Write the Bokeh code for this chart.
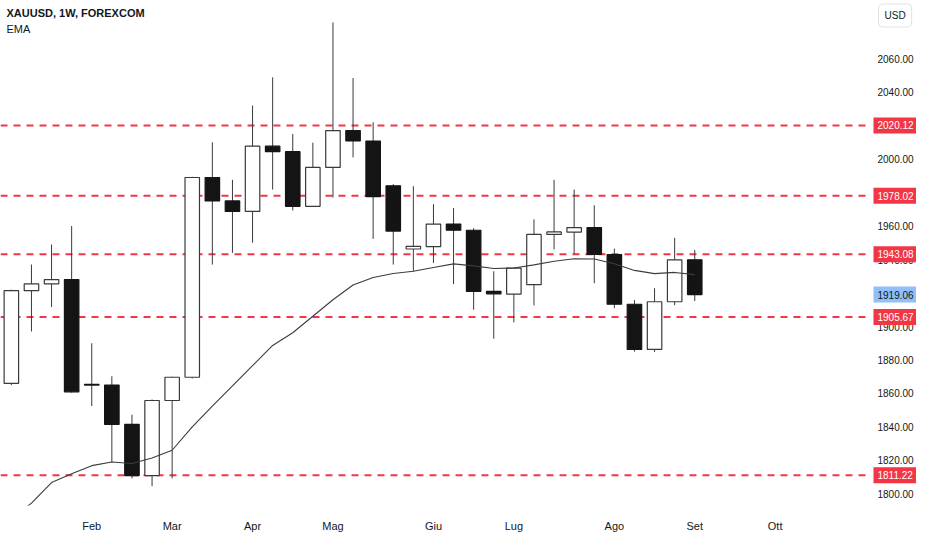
from bokeh.plotting import figure
from bokeh.models import ColumnDataSource, Span, Label, FixedTicker, NumeralTickFormatter, Range1d, BoxAnnotation
from bokeh.embed import file_html
from bokeh.resources import INLINE

# ---- data (weekly XAUUSD) ----
dates = ["2023-01-09", "2023-01-16", "2023-01-23", "2023-01-30", "2023-02-06", "2023-02-13",
         "2023-02-20", "2023-02-27", "2023-03-06", "2023-03-13", "2023-03-20", "2023-03-27",
         "2023-04-03", "2023-04-10", "2023-04-17", "2023-04-24", "2023-05-01", "2023-05-08",
         "2023-05-15", "2023-05-22", "2023-05-29", "2023-06-05", "2023-06-12", "2023-06-19",
         "2023-06-26", "2023-07-03", "2023-07-10", "2023-07-17", "2023-07-24", "2023-07-31",
         "2023-08-07", "2023-08-14", "2023-08-21", "2023-08-28", "2023-09-04"]
opens = [1866.0, 1921.4, 1925.5, 1928.0, 1865.5, 1865.0, 1841.5, 1811.0, 1855.8, 1869.7,
         1989.0, 1975.0, 1968.7, 2007.7, 2004.4, 1971.8, 1995.0, 2017.0, 2010.8, 1984.0,
         1946.3, 1947.7, 1961.2, 1957.5, 1921.0, 1919.3, 1925.0, 1955.0, 1956.4, 1959.1,
         1943.0, 1913.3, 1886.3, 1914.8, 1939.8]
highs = [1922.0, 1937.0, 1949.0, 1960.0, 1890.0, 1870.3, 1847.3, 1856.4, 1870.0, 1989.4,
         2010.0, 1987.6, 2032.0, 2048.8, 2015.0, 2009.8, 2081.6, 2048.4, 2022.0, 1985.0,
         1983.8, 1973.0, 1970.8, 1958.7, 1933.0, 1935.0, 1964.0, 1987.6, 1981.8, 1972.4,
         1946.5, 1915.8, 1922.9, 1952.9, 1945.7]
lows = [1865.0, 1897.0, 1911.6, 1860.5, 1852.5, 1819.0, 1809.3, 1804.6, 1809.3, 1869.0,
        1937.0, 1944.0, 1950.0, 1981.8, 1969.3, 1971.5, 1977.0, 2001.0, 1952.3, 1937.0,
        1933.0, 1938.0, 1925.3, 1910.0, 1892.7, 1902.5, 1912.6, 1946.0, 1943.2, 1925.8,
        1911.0, 1885.0, 1884.8, 1912.7, 1915.2]
closes = [1921.4, 1925.5, 1928.0, 1861.0, 1865.0, 1841.5, 1811.0, 1855.8, 1869.7, 1989.0,
          1975.0, 1968.7, 2007.7, 2004.4, 1971.8, 1995.0, 2017.0, 2010.8, 1977.6, 1957.0,
          1947.9, 1961.2, 1957.5, 1921.0, 1919.5, 1934.9, 1955.0, 1956.5, 1959.1, 1943.0,
          1913.3, 1886.3, 1914.8, 1939.8, 1919.06]
ema = [1785.0, 1794.5, 1806.8, 1812.0, 1816.9, 1819.1, 1818.2, 1821.5, 1826.1, 1840.0,
       1852.5, 1864.5, 1876.6, 1888.7, 1896.3, 1906.1, 1916.0, 1924.8, 1929.3, 1931.7,
       1933.0, 1935.2, 1937.4, 1936.2, 1934.6, 1934.9, 1936.8, 1939.0, 1940.5, 1940.3,
       1937.5, 1933.5, 1931.6, 1932.3, 1931.0]
levels = [2020.12, 1978.02, 1943.08, 1905.67, 1811.22]
last_price = 1919.06
month_ticks = [4, 8, 12, 16, 21, 25, 30, 34, 38]
month_labels = ["Feb", "Mar", "Apr", "Mag", "Giu", "Lug", "Ago", "Set", "Ott"]
price_ticks = [1800, 1820, 1840, 1860, 1880, 1900, 1920, 1940, 1960, 1980, 2000, 2020, 2040, 2060]

FONT = "Liberation Sans"
TXT = "#131722"
RED = "#f23645"

idx = list(range(len(dates)))
up = [c >= o for o, c in zip(opens, closes)]
src = ColumnDataSource(dict(
    x=idx, date=dates, open=opens, high=highs, low=lows, close=closes,
    top=[max(o, c) for o, c in zip(opens, closes)],
    bottom=[min(o, c) for o, c in zip(opens, closes)],
    fill=["#ffffff" if u else "#141414" for u in up],
    line=["#3a3a3a" if u else "#141414" for u in up],
))

FW, FH = 916, 505        # frame covers whole width; price scale lives in its right part
PANE = 870               # width of the candle pane inside the frame
PX_PER_BAR = 20.1
X0 = -0.54
p = figure(frame_width=FW, frame_height=FH,
           x_range=Range1d(X0, X0 + FW / PX_PER_BAR), y_range=Range1d(1793.1, 2094.7),
           y_axis_location="right", output_backend="svg", toolbar_location=None,
           min_border_left=0, min_border_top=0, min_border_right=0, min_border_bottom=29,
           background_fill_color="white", border_fill_color="white")
p.outline_line_color = None
p.xgrid.visible = False
p.ygrid.visible = False

for ax in (p.xaxis[0], p.yaxis[0]):
    ax.axis_line_color = None
    ax.major_tick_line_color = None
    ax.minor_tick_line_color = None
    ax.major_tick_out = 0
    ax.major_tick_in = 0
    ax.major_label_text_font = FONT
    ax.major_label_text_color = TXT

p.xaxis.ticker = FixedTicker(ticks=month_ticks)
p.xaxis.major_label_overrides = {t: l for t, l in zip(month_ticks, month_labels)}
p.xaxis.major_label_standoff = 14
p.xaxis.major_label_text_font_size = "11px"
p.yaxis.ticker = FixedTicker(ticks=price_ticks)
p.yaxis.formatter = NumeralTickFormatter(format="0.00")
p.yaxis.major_label_text_font_size = "10px"
p.yaxis.major_label_standoff = -(FW - PANE - 7)

# red dashed levels (under the price-scale cover)
for lv in levels:
    p.add_layout(Span(location=lv, dimension="width", line_color=RED,
                      line_width=2, line_dash="7 6", level="underlay"))
p.add_layout(BoxAnnotation(left=PANE, left_units="screen", fill_color="white", fill_alpha=1.0,
                           line_color=None, level="underlay"))

# wicks and bodies
p.segment(x0="x", y0="low", x1="x", y1="high", source=src, line_color="#3a3a3a", line_width=1)
p.vbar(x="x", width=0.72, top="top", bottom="bottom", source=src,
       fill_color="fill", line_color="line", line_width=1.2)

# EMA
p.line(idx, ema, line_color="#3c3c3c", line_width=1.1)

# price labels on the scale
for lv in levels:
    p.add_layout(Label(x=PANE + 3, y=lv, x_units="screen", y_units="data",
                       text=f"{lv:.2f}", text_color="white", text_font=FONT,
                       text_font_size="10px", text_baseline="middle", text_align="left",
                       background_fill_color=RED, padding=4))
p.add_layout(Label(x=PANE + 3, y=last_price, x_units="screen", y_units="data",
                   text=f"{last_price:.2f}", text_color=TXT, text_font=FONT,
                   text_font_size="10px", text_baseline="middle", text_align="left",
                   background_fill_color="#90bff9", padding=4))

# USD box
p.add_layout(Label(x=PANE + 8, y=FH - 15, x_units="screen", y_units="screen",
                   text="USD", text_color=TXT, text_font=FONT, text_font_size="10px",
                   text_baseline="middle", text_align="left",
                   background_fill_color="white", border_line_color="#e0e3eb",
                   border_radius=4, padding=6))

# header texts
p.add_layout(Label(x=6, y=FH - 12, x_units="screen", y_units="screen",
                   text="XAUUSD, 1W, FOREXCOM", text_color=TXT, text_font=FONT,
                   text_font_size="11px", text_font_style="bold", text_baseline="middle"))
p.add_layout(Label(x=6, y=FH - 28, x_units="screen", y_units="screen",
                   text="EMA", text_color=TXT, text_font=FONT,
                   text_font_size="11px", text_baseline="middle"))

open("out.html", "w").write(file_html(p, INLINE))
